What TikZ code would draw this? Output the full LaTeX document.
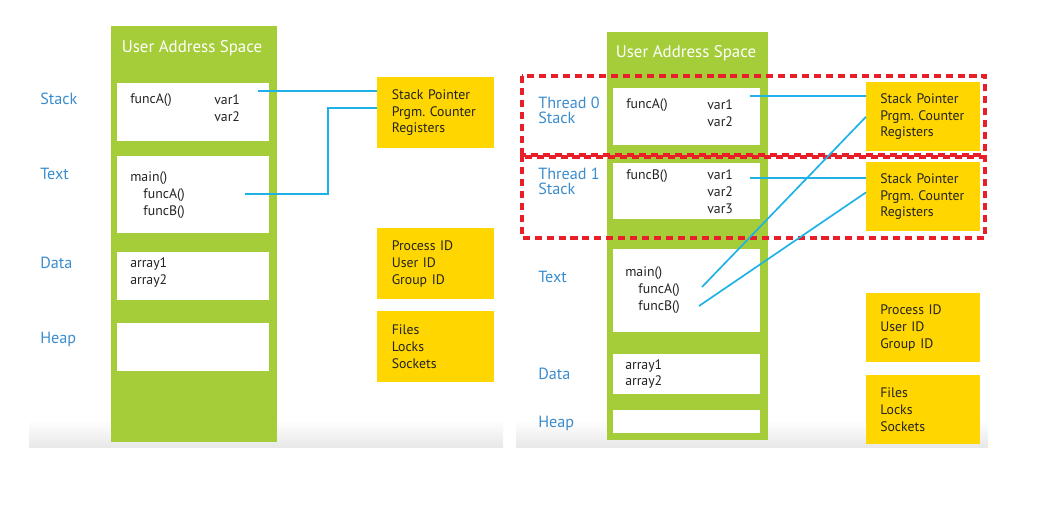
\documentclass[tikz,border=0pt]{standalone}
\usepackage{fontspec}
\setmainfont{PT Sans}
\usetikzlibrary{positioning}
\definecolor{leaf}{RGB}{165,205,57}
\definecolor{gold}{RGB}{255,214,0}
\definecolor{segblue}{RGB}{58,140,205}
\definecolor{wire}{RGB}{30,178,230}
\definecolor{ink}{RGB}{35,35,35}
\definecolor{dashred}{RGB}{232,30,40}
\begin{document}
\begin{tikzpicture}[x=0.025cm,y=-0.025cm,
    seglabel/.style={anchor=west,inner sep=0,text=segblue,align=left,font=\fontsize{11.5}{10.7}\selectfont},
    entry/.style={anchor=west,inner sep=0,text=ink,align=left,font=\fontsize{9.8}{12}\selectfont},
    title/.style={inner sep=0,text=white,font=\fontsize{12}{14}\selectfont},
    regs/.style={anchor=north west,fill=gold,inner xsep=0.36cm,inner ysep=0,align=left,text=ink,font=\fontsize{9.8}{11.9}\selectfont},
    link/.style={wire,line width=1.2pt},
    threadbox/.style={dashred,line width=2.3pt,dash pattern=on 5pt off 3.5pt}]
    \useasboundingbox (0,0) rectangle (1041,506);
    %% ---------------- single threaded process ----------------
    \shade[top color=white,bottom color=black!9] (29,420) rectangle (503,447);
    \fill[leaf] (111,26) rectangle (277,442);
    \node[title] (ltitle) at (192,48) {User Address Space};
    \fill[white] (117,83) rectangle (269,141);
    \fill[white] (117,156) rectangle (269,233);
    \fill[white] (117,252) rectangle (269,300);
    \fill[white] (117,323) rectangle (269,371);
    %% segment names
    \node[seglabel] (lstack) at (40,99) {Stack};
    \node[seglabel] (ltext) at (40,174) {Text};
    \node[seglabel] (ldata) at (40,263) {Data};
    \node[seglabel] (lheap) at (40,339) {Heap};
    %% contents
    \node[entry] (lfuncA) at (130,100) {funcA()};
    \node[entry] (lvars) at (214,108.5) {var1\\var2};
    \node[entry] (lmain) at (130,195) {main()\\\hspace*{0.33cm}funcA()\\\hspace*{0.33cm}funcB()};
    \node[entry] (larrays) at (130,272.5) {array1\\array2};
    %% per process info
    \node[regs,minimum width=2.925cm,minimum height=1.775cm,text width=2.2cm] (lregs) at (377,77) {Stack Pointer\\Prgm.~Counter\\Registers};
    \node[regs,minimum width=2.925cm,minimum height=1.775cm,text width=2.2cm] (lids) at (377,228) {Process ID\\User ID\\Group ID};
    \node[regs,minimum width=2.925cm,minimum height=1.775cm,text width=2.2cm] (lres) at (377,311) {Files\\Locks\\Sockets};
    %% links
    \coordinate (lendA) at (258,91);
    \coordinate (lcallA) at (245,194);
    \coordinate (lbend) at (328,108);
    \draw[link] (lendA) -- (lregs.west |- lendA);
    \draw[link] (lcallA) -| (lbend) -- (lregs.west |- lbend);
    %% ---------------- multi threaded process ----------------
    \shade[top color=white,bottom color=black!9] (516,420) rectangle (988,447);
    \fill[leaf] (607,32) rectangle (768,440);
    \node[title] (rtitle) at (686,53) {User Address Space};
    \fill[white] (613,88) rectangle (760,145);
    \fill[white] (613,163) rectangle (760,219);
    \fill[white] (613,249) rectangle (760,332);
    \fill[white] (613,354) rectangle (760,394);
    \fill[white] (613,410) rectangle (760,433);
    %% segment names
    \node[seglabel] (rstack0) at (538,110.5) {Thread 0\\Stack};
    \node[seglabel] (rstack1) at (538,181.5) {Thread 1\\Stack};
    \node[seglabel] (rtext) at (538,277) {Text};
    \node[seglabel] (rdata) at (538,374) {Data};
    \node[seglabel] (rheap) at (538,423) {Heap};
    %% contents
    \node[entry] (rfuncA) at (626,105) {funcA()};
    \node[entry] (rvars0) at (707,113) {var1\\var2};
    \node[entry] (rfuncB) at (626,176) {funcB()};
    \node[entry] (rvars1) at (707,192) {var1\\var2\\var3};
    \node[entry] (rmain) at (625,290) {main()\\\hspace*{0.33cm}funcA()\\\hspace*{0.33cm}funcB()};
    \node[entry] (rarrays) at (625,374) {array1\\array2};
    %% per thread and per process info
    \node[regs,inner xsep=0.35cm,minimum width=2.85cm,minimum height=1.725cm,text width=2.15cm] (r0regs) at (866,82) {Stack Pointer\\Prgm.~Counter\\Registers};
    \node[regs,inner xsep=0.35cm,minimum width=2.85cm,minimum height=1.725cm,text width=2.15cm] (r1regs) at (866,162) {Stack Pointer\\Prgm.~Counter\\Registers};
    \node[regs,inner xsep=0.35cm,minimum width=2.85cm,minimum height=1.725cm,text width=2.15cm] (rids) at (866,293) {Process ID\\User ID\\Group ID};
    \node[regs,inner xsep=0.35cm,minimum width=2.85cm,minimum height=1.725cm,text width=2.15cm] (rres) at (866,375) {Files\\Locks\\Sockets};
    %% thread frames
    \draw[threadbox] (522,76) rectangle (985,157);
    \draw[threadbox] (522,155) rectangle (985,238);
    %% links
    \coordinate (rendA) at (750,96);
    \coordinate (rendB) at (750,178);
    \coordinate (rcallA) at (702,287);
    \coordinate (rcallB) at (699,306);
    \draw[link] (rendA) -- (r0regs.west |- rendA);
    \draw[link] (rendB) -- (r1regs.west |- rendB);
    \draw[link] (rcallA) -- (r0regs.west);
    \draw[link] (rcallB) -- ([yshift=0.11cm]r1regs.west);
\end{tikzpicture}
\end{document}
